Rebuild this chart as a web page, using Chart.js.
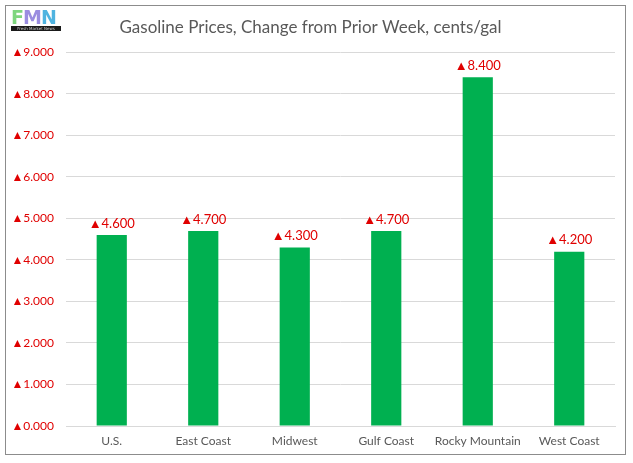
<!DOCTYPE html>
<html lang="en">
<head>
    <meta charset="UTF-8">
    <title>Gasoline Prices, Change from Prior Week</title>
    <script src="https://cdn.jsdelivr.net/npm/chart.js"></script>
    <style>
        body {
            margin: 0;
            background: #fff;
            font-family: Lato, "Open Sans", sans-serif;
        }
        .frame {
            position: absolute;
            left: 5px;
            top: 5px;
            width: 621px;
            height: 450px;
            border: 1px solid #8c8c8c;
            box-sizing: border-box;
        }
        .logo {
            position: absolute;
            left: 5px;
            top: 3px;
            width: 50px;
            height: 22px;
            font-family: "DejaVu Sans", sans-serif;
            font-weight: bold;
            font-size: 19px;
            line-height: 17px;
            letter-spacing: -1px;
            z-index: 2;
        }
        .logo .band {
            display: block;
            background: #1a1a1a;
            color: #ccc;
            font-size: 4px;
            line-height: 5px;
            letter-spacing: 0;
            font-weight: normal;
            text-align: center;
        }
        #chart {
            position: absolute;
            left: 0;
            top: 0;
        }
    </style>
</head>
<body>
<div class="frame">
    <div class="logo"><span style="color:#7ed67e">F</span><span style="color:#9a8de0">M</span><span style="color:#4fb3e0">N</span><span class="band">Fresh Market News</span></div>
    <canvas id="chart" width="619" height="448"></canvas>
</div>
<script>
    const regions = ['U.S.', 'East Coast', 'Midwest', 'Gulf Coast', 'Rocky Mountain', 'West Coast'];
    const changes = [4.6, 4.7, 4.3, 4.7, 8.4, 4.2];
    const yTicks = [0, 1, 2, 3, 4, 5, 6, 7, 8, 9];

    function arrowLabel(v) {
        return '\u25B2' + Number(v).toFixed(3);
    }

    const valueLabels = {
        id: 'valueLabels',
        afterDatasetsDraw(chart) {
            const ctx = chart.ctx;
            const meta = chart.getDatasetMeta(0);
            ctx.save();
            ctx.fillStyle = '#e00000';
            ctx.font = '13px Lato, "Open Sans", sans-serif';
            ctx.textAlign = 'center';
            ctx.textBaseline = 'bottom';
            meta.data.forEach((bar, i) => {
                ctx.fillText(arrowLabel(changes[i]), bar.x, bar.y - 5);
            });
            ctx.restore();
        }
    };

    new Chart(document.getElementById('chart'), {
        type: 'bar',
        data: {
            labels: regions,
            datasets: [{
                data: changes,
                backgroundColor: '#00b050',
                barPercentage: 0.33,
                categoryPercentage: 1
            }]
        },
        options: {
            responsive: false,
            animation: false,
            layout: { padding: { left: 0, right: 10, top: 0, bottom: 0 } },
            plugins: {
                legend: { display: false },
                tooltip: { enabled: false },
                title: {
                    display: true,
                    text: 'Gasoline Prices, Change from Prior Week, cents/gal',
                    color: '#595959',
                    font: { family: 'Lato, "Open Sans", sans-serif', size: 17, weight: 'normal' },
                    padding: { top: 11, bottom: 15 }
                }
            },
            scales: {
                x: {
                    afterFit(axis) { axis.height = 28; },
                    grid: { display: false, drawTicks: false },
                    border: { color: '#d9d9d9' },
                    ticks: {
                        color: '#595959',
                        font: { family: 'Lato, "Open Sans", sans-serif', size: 12 },
                        padding: 8,
                        maxRotation: 0,
                        autoSkip: false
                    }
                },
                y: {
                    min: 0,
                    max: 9,
                    afterFit(axis) { axis.width = 60; },
                    afterBuildTicks(axis) {
                        axis.ticks = yTicks.map(v => ({ value: v }));
                    },
                    grid: { color: '#d9d9d9', drawTicks: false },
                    border: { display: false },
                    ticks: {
                        color: '#e00000',
                        font: { family: 'Lato, "Open Sans", sans-serif', size: 12 },
                        padding: 12,
                        callback: v => arrowLabel(v)
                    }
                }
            }
        },
        plugins: [valueLabels]
    });
</script>
</body>
</html>
